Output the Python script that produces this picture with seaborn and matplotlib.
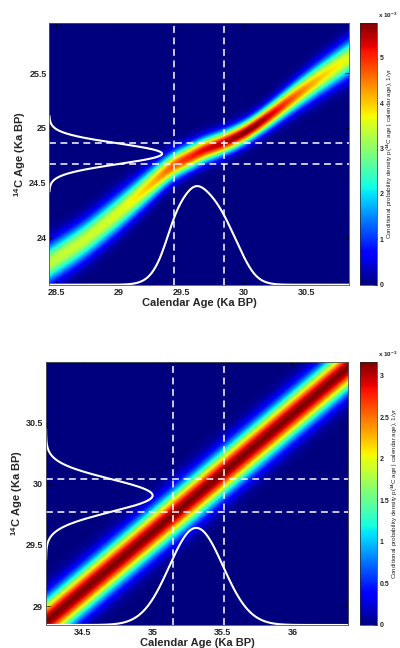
import numpy as np
import matplotlib
matplotlib.use('Agg')
import matplotlib.pyplot as plt
import seaborn as sns

# ---- top panel (ka BP) ----
cal_top = [28.45, 28.72, 28.99, 29.25, 29.44, 29.57, 29.65, 29.84, 30.00, 30.13, 30.25, 30.37, 30.61, 30.84]
c14_top = [23.77, 23.97, 24.22, 24.48, 24.67, 24.73, 24.79, 24.865, 24.95, 25.05, 25.15, 25.26, 25.46, 25.64]
sig_cal_top = [28.45, 29.0, 29.25, 29.45, 29.8, 30.1, 30.3, 30.6, 30.84]
sig_top = [0.118, 0.112, 0.098, 0.082, 0.072, 0.068, 0.078, 0.098, 0.110]
meas_mean_top = 24.765
meas_sd_top = 0.095
meas_span_top = [24.42, 25.11]
cal_lines_top = [29.444, 29.84]
curve_h_top = [0.90, 0.90]          # left curve height (x units), bottom curve height (y units)
xlim_top = [28.446, 30.84]
ylim_top = [23.57, 25.96]
xticks_top = [28.5, 29, 29.5, 30, 30.5]
yticks_top = [24, 24.5, 25, 25.5]
cticks_top = [0, 1, 2, 3, 4, 5]

# ---- bottom panel ----
cal_bot = [34.237, 36.40]
c14_bot = [28.87, 30.953]
sig_cal_bot = [34.237, 36.40]
sig_bot = [0.126, 0.126]
meas_mean_bot = 29.905
meas_sd_bot = 0.135
meas_span_bot = [29.38, 30.45]
cal_lines_bot = [35.147, 35.508]
curve_h_bot = [0.763, 0.795]
xlim_bot = [34.237, 36.40]
ylim_bot = [28.845, 31.0]
xticks_bot = [34.5, 35, 35.5, 36]
yticks_bot = [29, 29.5, 30, 30.5]
cticks_bot = [0, 0.5, 1, 1.5, 2, 2.5, 3]

sns.set_theme(style='white')
plt.rcParams['font.family'] = ['Liberation Sans', 'DejaVu Sans']
plt.rcParams['font.weight'] = 'bold'
plt.rcParams['mathtext.fontset'] = 'custom'
plt.rcParams['mathtext.rm'] = 'Liberation Sans:bold'
plt.rcParams['mathtext.default'] = 'rm'


def smooth_interp(xs, kx, ky, width=0.06):
    # piecewise-linear through the knots, then a light gaussian smoothing
    kx = np.asarray(kx, float)
    ky = np.asarray(ky, float)
    if len(kx) > 1:
        s0 = (ky[1] - ky[0]) / (kx[1] - kx[0])
        s1 = (ky[-1] - ky[-2]) / (kx[-1] - kx[-2])
        kx = np.r_[kx[0] - 1, kx, kx[-1] + 1]
        ky = np.r_[ky[0] - s0, ky, ky[-1] + s1]
    dx = xs[1] - xs[0]
    n = int(3 * width / dx) + 1
    ext = np.r_[xs[0] - dx * np.arange(n, 0, -1), xs, xs[-1] + dx * np.arange(1, n + 1)]
    vals = np.interp(ext, kx, ky)
    k = np.exp(-0.5 * (np.arange(-n, n + 1) * dx / width) ** 2)
    k /= k.sum()
    return np.convolve(vals, k, mode='valid')


def draw_panel(fig, ax_rect, cax_rect, cal, c14, sig_cal, sig, m, so, span, lines,
               heights, xlim, ylim, xticks, yticks, cticks, lw, xpad):
    ax = fig.add_axes(ax_rect)
    cax = fig.add_axes(cax_rect)
    xs = np.linspace(xlim[0], xlim[1], 600)
    ys = np.linspace(ylim[0], ylim[1], 600)
    mu = smooth_interp(xs, cal, c14)
    sd = smooth_interp(xs, sig_cal, sig)
    Y = ys[:, None]
    dens = np.exp(-0.5 * ((Y - mu[None, :]) / sd[None, :]) ** 2) / (np.sqrt(2 * np.pi) * sd[None, :] * 1000)
    im = ax.imshow(dens * 1e3, extent=[xlim[0], xlim[1], ylim[0], ylim[1]], origin='lower',
                   aspect='auto', cmap='jet', vmin=0, vmax=dens.max() * 1e3, interpolation='bilinear')

    # posterior of calendar age given the measurement
    tot = np.sqrt(sd ** 2 + so ** 2)
    post = np.exp(-0.5 * ((mu - m) / tot) ** 2) / tot
    yb = ylim[0] + heights[1] * post / post.max()
    sns.lineplot(x=xs, y=yb, color='white', lw=lw, ax=ax, estimator=None, sort=False)

    # measurement density drawn from the left axis
    yy = np.linspace(span[0], span[1], 400)
    xx = xlim[0] + heights[0] * np.exp(-0.5 * ((yy - m) / so) ** 2)
    sns.lineplot(x=xx, y=yy, color='white', lw=lw, ax=ax, estimator=None, sort=False)

    for v in lines:
        ax.axvline(v, color='white', lw=1.1, dashes=(4.5, 3))
    for h in [m - so, m + so]:
        ax.axhline(h, color='white', lw=1.1, dashes=(4.5, 3))

    ax.set_xlim(xlim)
    ax.set_ylim(ylim)
    ax.set_xticks(xticks)
    ax.set_xticklabels([f'{t:g}' for t in xticks])
    ax.set_yticks(yticks)
    ax.set_yticklabels([f'{t:g}' for t in yticks])
    ax.tick_params(direction='in', length=3, width=0.5, color='black', labelsize=6.5, pad=2,
                   top=True, right=True, bottom=True, left=True)
    for s in ax.spines.values():
        s.set_linewidth(0.6)
        s.set_color('#555555')
    ax.set_xlabel('Calendar Age (Ka BP)', fontsize=8, fontweight='bold', labelpad=xpad)
    ax.set_ylabel('$^{14}$C Age (Ka BP)', fontsize=8, fontweight='bold', labelpad=0.5)

    cb = fig.colorbar(im, cax=cax)
    cb.set_ticks(cticks)
    cb.set_ticklabels([f'{t:g}' for t in cticks])
    cb.ax.tick_params(direction='in', length=2.5, width=0.5, labelsize=5, pad=2)
    cb.outline.set_linewidth(0.5)
    cb.set_label('Conditional probability density p($^{14}$C age | calendar age), 1/yr',
                 fontsize=4.5, fontweight='normal', labelpad=0.5)
    cax.text(1.05, 1.01, 'x 10$^{-3}$', transform=cax.transAxes, fontsize=4.6,
             ha='left', va='bottom')
    return ax


fig = plt.figure(figsize=(4.0, 6.48), dpi=100)
draw_panel(fig, [0.1233, 0.5606, 0.75, 0.4043], [0.9, 0.5606, 0.042, 0.4043],
           cal_top, c14_top, sig_cal_top, sig_top, meas_mean_top, meas_sd_top,
           meas_span_top, cal_lines_top, curve_h_top, xlim_top, ylim_top,
           xticks_top, yticks_top, cticks_top, 1.5, 1)
draw_panel(fig, [0.115, 0.0355, 0.7558, 0.4063], [0.9, 0.0355, 0.042, 0.4063],
           cal_bot, c14_bot, sig_cal_bot, sig_bot, meas_mean_bot, meas_sd_bot,
           meas_span_bot, cal_lines_bot, curve_h_bot, xlim_bot, ylim_bot,
           xticks_bot, yticks_bot, cticks_bot, 1.5, 1)

fig.savefig('out.png', dpi=100)
